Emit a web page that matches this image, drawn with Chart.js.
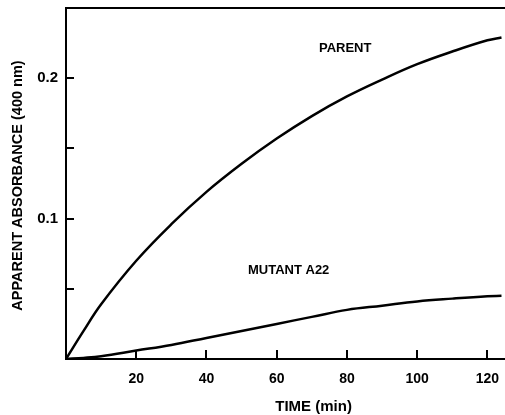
<!DOCTYPE html>
<html>
<head>
<meta charset="utf-8">
<script src="https://cdn.jsdelivr.net/npm/chart.js@4/dist/chart.umd.min.js"></script>
<style>
  html, body { margin: 0; padding: 0; background: #fff; }
  #wrap { width: 505px; height: 415px; }
</style>
</head>
<body>
<div id="wrap"><canvas id="c" width="505" height="415"></canvas></div>
<script>
const timeMin = [0, 5, 10, 20, 30, 40, 50, 60, 70, 80, 90, 100, 110, 120, 124];
const parent = [0, 0.020, 0.039, 0.070, 0.096, 0.119, 0.139, 0.157, 0.173, 0.187, 0.199, 0.210, 0.219, 0.227, 0.229];
const mutantA22 = [0, 0.0008, 0.002, 0.006, 0.010, 0.015, 0.020, 0.025, 0.030, 0.035, 0.038, 0.041, 0.043, 0.0447, 0.045];
const xTickLabels = [20, 40, 60, 80, 100, 120];
const yTickLabels = [0.1, 0.2];
const yMinorTicks = [0.05, 0.15];
const seriesLabels = [
  { text: 'PARENT', x: 79.5, y: 0.221 },
  { text: 'MUTANT A22', x: 63.4, y: 0.063 }
];
const xTitle = 'TIME (min)';
const yTitle = 'APPARENT ABSORBANCE (400 nm)';

const FONT = '"Liberation Sans", Arial, Helvetica, sans-serif';

const toXY = (xs, ys) => xs.map((x, i) => ({ x: x, y: ys[i] }));

const decor = {
  id: 'decor',
  afterDraw(chart) {
    const ctx = chart.ctx;
    const xs = chart.scales.x, ys = chart.scales.y;
    const a = chart.chartArea;
    ctx.save();
    ctx.strokeStyle = '#000';
    ctx.lineWidth = 2;
    ctx.beginPath();
    ctx.moveTo(a.left - 1, a.top);
    ctx.lineTo(chart.width, a.top);
    ctx.stroke();
    xTickLabels.forEach(v => {
      const px = Math.round(xs.getPixelForValue(v));
      ctx.beginPath();
      ctx.moveTo(px, a.bottom);
      ctx.lineTo(px, a.bottom - 9);
      ctx.stroke();
    });
    yTickLabels.concat(yMinorTicks).forEach(v => {
      const py = Math.round(ys.getPixelForValue(v));
      ctx.beginPath();
      ctx.moveTo(a.left, py);
      ctx.lineTo(a.left + 8, py);
      ctx.stroke();
    });
    ctx.fillStyle = '#000';
    ctx.font = 'bold 13px ' + FONT;
    ctx.textAlign = 'center';
    ctx.textBaseline = 'middle';
    seriesLabels.forEach(l => {
      ctx.fillText(l.text, xs.getPixelForValue(l.x), ys.getPixelForValue(l.y));
    });
    ctx.font = 'bold 15px ' + FONT;
    ctx.fillText(xTitle, xs.getPixelForValue(70.5), 407);
    ctx.save();
    ctx.translate(18, (a.top + a.bottom) / 2 + 2);
    ctx.rotate(-Math.PI / 2);
    ctx.font = 'bold 14.5px ' + FONT;
    ctx.fillText(yTitle, 0, 0);
    ctx.restore();
    ctx.restore();
  }
};

new Chart(document.getElementById('c'), {
  type: 'line',
  data: {
    datasets: [
      { label: 'PARENT', data: toXY(timeMin, parent), borderColor: '#000', borderWidth: 2.5, pointRadius: 0, tension: 0.4, fill: false },
      { label: 'MUTANT A22', data: toXY(timeMin, mutantA22), borderColor: '#000', borderWidth: 2.5, pointRadius: 0, tension: 0.4, fill: false }
    ]
  },
  options: {
    responsive: false,
    animation: false,
    events: [],
    layout: { padding: { top: 8, right: 0, left: 0, bottom: 0 } },
    plugins: { legend: { display: false }, tooltip: { enabled: false } },
    scales: {
      x: {
        type: 'linear',
        min: 0, max: 125,
        afterFit(s) { s.height = 56; s.paddingLeft = 0; s.paddingRight = 0; },
        grid: { display: false, drawTicks: false },
        border: { display: true, color: '#000', width: 2 },
        ticks: {
          stepSize: 20,
          includeBounds: false,
          autoSkip: false,
          maxRotation: 0,
          padding: 12,
          color: '#000',
          font: { family: FONT, size: 14, weight: 'bold' },
          callback: v => (xTickLabels.includes(v) ? String(v) : '')
        }
      },
      y: {
        type: 'linear',
        min: 0, max: 0.25,
        afterFit(s) { s.width = 66; s.paddingTop = 0; s.paddingBottom = 0; },
        grid: { display: false, drawTicks: false },
        border: { display: true, color: '#000', width: 2 },
        ticks: {
          stepSize: 0.05,
          autoSkip: false,
          padding: 8,
          color: '#000',
          font: { family: FONT, size: 15, weight: 'bold' },
          callback: v => {
            const r = Math.round(v * 100) / 100;
            return yTickLabels.includes(r) ? String(r) : '';
          }
        }
      }
    }
  },
  plugins: [decor]
});
</script>
</body>
</html>
